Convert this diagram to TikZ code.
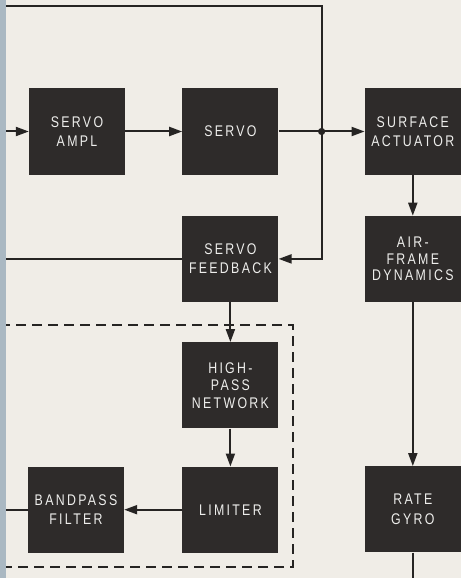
\documentclass[tikz,border=0pt]{standalone}
\usepackage{fontspec}
\usepackage{tikz}
\usetikzlibrary{arrows.meta,positioning,calc}
\newfontfamily\blokfont[FakeStretch=0.8,LetterSpace=15]{Liberation Sans}
\definecolor{papier}{HTML}{F0EDE7}
\definecolor{inkt}{HTML}{262423}
\definecolor{blokC}{HTML}{2E2B2A}
\definecolor{tekstC}{HTML}{EEEEEC}
\definecolor{randC}{HTML}{AAB8C2}
\tikzset{
  blok/.style={rectangle, fill=blokC, text=tekstC, align=center, inner sep=0pt,
               minimum width=96bp, minimum height=86bp,
               font=\blokfont\fontsize{15.5}{19.5}\selectfont},
  arr/.style={-{Triangle[length=13bp,width=9bp]}, line width=2bp, draw=inkt},
  lijn/.style={line width=2bp, draw=inkt},
  kader/.style={line width=2bp, draw=inkt, dash pattern=on 10bp off 6bp},
}

\begin{document}
\begin{tikzpicture}[x=1bp, y=-1bp]
    \clip (0,0) rectangle (461,578);
    \fill[papier] (0,0) rectangle (461,578);
    % blokken
    \node[blok] (ampl) at (77,131.5) {SERVO\\AMPL};
    \node[blok, right=57bp of ampl] (servo) {SERVO};
    \node[blok, right=86bp of servo] (surf) {SURFACE\\ACTUATOR};
    \node[blok, below=41bp of servo] (fb) {SERVO\\FEEDBACK};
    \node[blok, below=41bp of surf] (air) {AIR-\\[-3bp]FRAME\\[-3bp]DYNAMICS};
    \node[blok, below=40bp of fb] (hp) {HIGH-\\[-2bp]PASS\\[-2bp]NETWORK};
    \node[blok, below=38bp of hp] (lim) {LIMITER};
    \node[blok, left=58bp of lim] (bp) {BANDPASS\\FILTER};
    \node[blok, below=164bp of air] (gyro) {RATE\\GYRO};
    % hulppunten
    \coordinate (hoekL) at (0,6);
    \coordinate (onder) at (0,578);
    \coordinate (j) at ($(servo.east)!0.5!(surf.west)$);
    \coordinate (hoekR) at (j |- hoekL);
    % verbindingen
    \draw[arr] (ampl.west -| hoekL) -- (ampl);
    \draw[arr] (ampl) -- (servo);
    \draw[arr] (servo) -- (surf);
    \fill[inkt] (j) circle (3.6bp);
    \draw[arr] (hoekL) -- (hoekR) |- (fb.east);
    \draw[lijn] (fb.west -| hoekL) -- (fb.west);
    \draw[arr] (surf) -- (air);
    \draw[arr] (air) -- (gyro);
    \draw[lijn] (gyro) -- (gyro.south |- onder);
    \draw[arr] (fb) -- (hp);
    \draw[arr] (hp) -- (lim);
    \draw[arr] (lim) -- (bp);
    \draw[lijn] (bp) -- (bp.west -| hoekL);
    % gestippeld kader
    \draw[kader] (0,325) -- (293,325) -- (293,567) -- (0,567);
    \fill[randC] (0,0) rectangle (6,578);
\end{tikzpicture}
\end{document}
